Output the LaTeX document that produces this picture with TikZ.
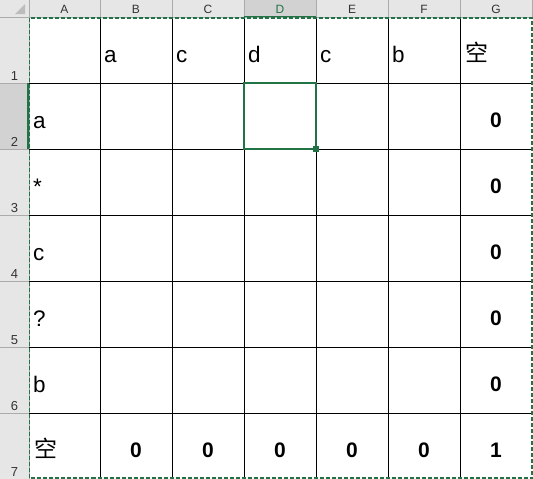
\documentclass[tikz,border=0pt]{standalone}
\usepackage{fontspec}
\setmainfont{Liberation Sans}
\newfontfamily\cjk{Noto Sans CJK SC}
\definecolor{xlgreen}{HTML}{217346}
\definecolor{hdrbg}{HTML}{E6E6E6}
\definecolor{hdrsel}{HTML}{D2D2D2}
\definecolor{hdrline}{HTML}{ABABAB}
\definecolor{hdrtext}{HTML}{333333}
\tikzset{
  hdrcol/.style={anchor=base, text=hdrtext, font=\fontsize{12}{14}\selectfont, inner sep=0pt},
  hdrrow/.style={anchor=base, text=hdrtext, font=\fontsize{13}{15}\selectfont, inner sep=0pt},
  celltxt/.style={anchor=base west, font=\fontsize{22.5}{26}\selectfont, inner sep=0pt},
  cjktxt/.style={anchor=base west, font=\cjk\fontsize{23}{26}\selectfont, inner sep=0pt},
  numtxt/.style={anchor=base, font=\bfseries\fontsize{21}{24}\selectfont, inner sep=0pt},
  gridline/.style={black, line width=0.9pt},
  hline/.style={hdrline, line width=0.8pt},
  antline/.style={xlgreen, line width=1.5pt, dash pattern=on 4pt off 2pt},
}
\begin{document}
\begin{tikzpicture}[x=1pt,y=-1pt]
\useasboundingbox (0,0) rectangle (533,479);
\fill[white] (0,0) rectangle (533,479);
% header backgrounds
\fill[hdrbg] (0,0) rectangle (533,17);
\fill[hdrbg] (0,0) rectangle (29,479);
\fill[hdrsel] (244,0) rectangle (316,17);
\fill[hdrsel] (0,83) rectangle (29,149);
% corner triangle
\fill[hdrline!80] (25,4) -- (25,14) -- (15,14) -- cycle;
% header separators
\foreach \x in {29,100,172,244,316,388,460,532} \draw[hline] (\x,0) -- (\x,17);
\foreach \y in {17,83,149,215,281,347,413} \draw[hline] (0,\y) -- (29,\y);
\draw[hline] (0,17) -- (533,17);
\draw[hline] (29,0) -- (29,479);
% selected header highlights
\draw[xlgreen, line width=1.5pt] (244,16.5) -- (316,16.5);
\draw[xlgreen, line width=1.5pt] (28,83) -- (28,149);
% column header letters
\foreach \l/\c in {A/64.5,B/136,C/208,E/352,F/424,G/496}
  \node[hdrcol] (col\l) at (\c,13) {\l};
\node[hdrcol, text=xlgreen] (colD) at (280,13) {D};
% row numbers
\foreach \r in {1,...,7}
  \node[hdrrow] (row\r) at (14.5,{17+66*\r-3}) {\r};
% grid
\foreach \x in {100,172,244,316,388,460} \draw[gridline] (\x,17) -- (\x,478);
\foreach \y in {83,149,215,281,347,413} \draw[gridline] (29,\y) -- (532,\y);
% marching ants border
\draw[antline] (29.5,18) rectangle (532,478);
% selected cell
\draw[xlgreen, line width=2pt] (244,83) rectangle (316,149);
\fill[xlgreen] (313,146) rectangle (319,152);
% row 1 texts
\node[celltxt] (b1) at (104,62) {a};
\node[celltxt] (c1) at (176,62) {c};
\node[celltxt] (d1) at (248,62) {d};
\node[celltxt] (e1) at (320,62) {c};
\node[celltxt] (f1) at (392,62) {b};
\node[cjktxt] (g1) at (465,61) {空};
% column A texts
\node[celltxt] (a2) at (33,128) {a};
\node[celltxt] (a3) at (33,194) {*};
\node[celltxt] (a4) at (33,260) {c};
\node[celltxt] (a5) at (33,326) {?};
\node[celltxt] (a6) at (33,392) {b};
\node[cjktxt] (a7) at (34,457) {空};
% column G zeros
\node[numtxt] (g2) at (496,127) {0};
\node[numtxt] (g3) at (496,193) {0};
\node[numtxt] (g4) at (496,259) {0};
\node[numtxt] (g5) at (496,325) {0};
\node[numtxt] (g6) at (496,391) {0};
% row 7
\node[numtxt] (b7) at (136,457) {0};
\node[numtxt] (c7) at (208,457) {0};
\node[numtxt] (d7) at (280,457) {0};
\node[numtxt] (e7) at (352,457) {0};
\node[numtxt] (f7) at (424,457) {0};
\node[numtxt] (g7) at (496,457) {1};
\end{tikzpicture}
\end{document}
